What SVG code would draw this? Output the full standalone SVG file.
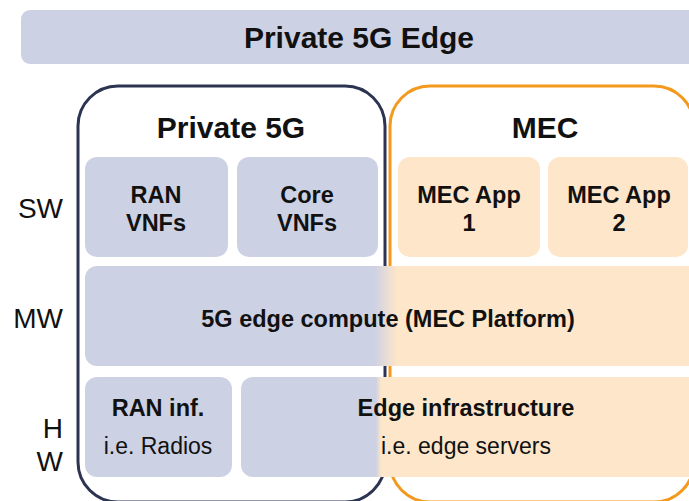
<svg xmlns="http://www.w3.org/2000/svg" width="689" height="501" viewBox="0 0 689 501">
<style>
text{font-family:"Liberation Sans",Arial,sans-serif;fill:#111;text-anchor:middle}
.t{font-weight:bold;font-size:30px}
.c{font-weight:bold;font-size:23.5px}
.r{font-size:23px}
.s{font-size:28px;text-anchor:end}
.lav{fill:#cdd1e4}
.pea{fill:#fde6c9}
</style>
<defs>
<linearGradient id="g1" gradientUnits="userSpaceOnUse" x1="374" y1="0" x2="397" y2="0">
<stop offset="0" stop-color="#cdd1e4"/><stop offset="1" stop-color="#fde6c9"/>
</linearGradient>
<linearGradient id="g2" gradientUnits="userSpaceOnUse" x1="376" y1="0" x2="381" y2="0">
<stop offset="0" stop-color="#cdd1e4"/><stop offset="1" stop-color="#fde6c9"/>
</linearGradient>
</defs>
<g id="banner">
<rect x="21" y="10" width="690" height="54" rx="9" class="lav"/>
<text x="359" y="48" class="t">Private 5G Edge</text>
</g>
<g id="private5g">
<rect x="78" y="86" width="307" height="416" rx="40" fill="#fff" stroke="#2c3452" stroke-width="3"/>
<text x="231" y="138" class="t">Private 5G</text>
</g>
<g id="mec">
<rect x="390" y="86" width="304" height="416" rx="40" fill="#fff" stroke="#f39a1e" stroke-width="3"/>
<text x="545" y="138" class="t">MEC</text>
</g>
<g id="labels">
<text x="63" y="218" class="s">SW</text>
<text x="63" y="328" class="s">MW</text>
<text x="63" y="438" class="s">H</text>
<text x="63" y="471" class="s">W</text>
</g>
<g id="ran-vnfs">
<rect x="85" y="157" width="143" height="100" rx="12" class="lav"/>
<text x="156" y="203" class="c">RAN</text>
<text x="156" y="231" class="c">VNFs</text>
</g>
<g id="core-vnfs">
<rect x="237" y="157" width="141" height="100" rx="12" class="lav"/>
<text x="307" y="203" class="c">Core</text>
<text x="307" y="231" class="c">VNFs</text>
</g>
<g id="mec-app-1">
<rect x="398" y="157" width="142" height="100" rx="12" class="pea"/>
<text x="469" y="203" class="c">MEC App</text>
<text x="469" y="231" class="c">1</text>
</g>
<g id="mec-app-2">
<rect x="548" y="157" width="140" height="100" rx="12" class="pea"/>
<text x="619" y="203" class="c">MEC App</text>
<text x="619" y="231" class="c">2</text>
</g>
<g id="edge-compute">
<rect x="85" y="266" width="615" height="100" rx="12" fill="url(#g1)"/>
<text x="388" y="327" class="c">5G edge compute (MEC Platform)</text>
</g>
<g id="ran-inf">
<rect x="85" y="377" width="147" height="100" rx="12" class="lav"/>
<text x="158" y="416" class="c">RAN inf.</text>
<text x="158" y="454" class="r">i.e. Radios</text>
</g>
<g id="edge-infra">
<rect x="241" y="377" width="460" height="100" rx="12" fill="url(#g2)"/>
<text x="466" y="416" class="c">Edge infrastructure</text>
<text x="466" y="454" class="r">i.e. edge servers</text>
</g>
<g id="connectors"/>
</svg>
